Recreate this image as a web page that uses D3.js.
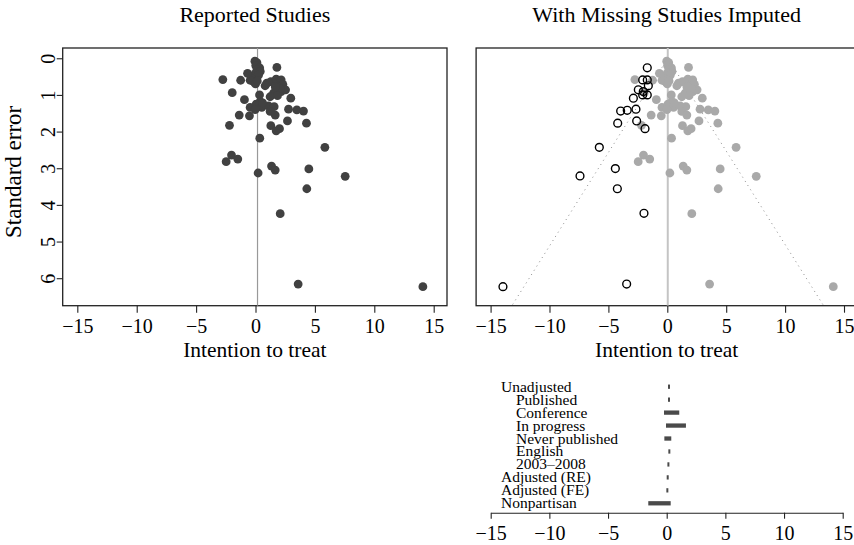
<!DOCTYPE html>
<html>
<head>
<meta charset="utf-8">
<script src="https://cdn.jsdelivr.net/npm/d3@7"></script>
<style>
  body { margin: 0; background: #fff; }
  svg text { font-family: "Liberation Serif", "Times New Roman", serif; fill: #000; }
</style>
</head>
<body>
<div id="chart"></div>
<script>
// reported studies: [effect, standard error]
let reportedX = [-0.05,0.12,0.02,0.35,0.12,0.4,-0.03,0.25,-0.3,-0.17,-0.45,0.0,0.15,
  -2.75,-1.25,-0.67,-1.96,-0.93,-1.37,-0.51,-2.19,-0.45,
  1.8,0.95,1.29,1.74,2.16,2.3,1.85,2.16,2.53,1.52,0.81,2.08,1.66,
  0.34,1.23,1.85,2.97,0.39,0.06,0.12,0.53,1.09,1.57,1.23,1.66,2.78,3.48,4.04,-0.03,0.6,
  1.29,1.74,2.02,2.69,4.29,0.36,5.84,-2.02,-1.49,-2.47,1.35,1.66,4.49,0.22,4.32,2.08,7.55,3.59,14.09];
let reportedSE = [0.08,0.12,0.2,0.26,0.32,0.36,0.42,0.46,0.56,0.64,0.6,0.7,0.62,
  0.58,0.6,0.41,0.94,1.13,1.55,1.57,1.83,1.34,
  0.25,0.68,0.64,0.57,0.59,0.71,0.77,0.91,0.86,0.95,0.75,0.83,0.78,
  1.0,1.05,1.02,1.09,1.18,1.25,1.28,1.34,1.3,1.32,1.45,1.55,1.39,1.41,1.44,1.4,1.22,
  1.84,1.98,1.92,1.71,1.77,2.18,2.43,2.64,2.75,2.82,2.94,3.05,3.02,3.13,3.56,4.24,3.22,6.16,6.23];
// imputed (missing) studies
let imputedX = [-1.70,-2.09,-1.70,-1.61,-2.46,-2.04,-1.70,-2.09,-2.88,-3.96,-3.4,-2.66,-4.21,-2.6,-1.89,-5.77,-4.41,-7.41,-4.24,-1.98,-3.45,-13.95];
let imputedSE = [0.26,0.59,0.59,0.75,0.86,0.91,1.0,1.0,1.09,1.44,1.42,1.39,1.77,1.71,1.92,2.43,3.01,3.21,3.56,4.23,6.16,6.23];
let pooledReported = 0.17;
let pooledImputed = 0.04;

// estimates by subgroup
let groups = ["Unadjusted","Published","Conference","In progress","Never published","English","2003\u20132008","Adjusted (RE)","Adjusted (FE)","Nonpartisan"];
let groupIndent = [0,1,1,1,1,1,1,0,0,0];
let groupLow = [0.11,0.11,-0.23,-0.06,-0.2,0.14,0.06,0.0,-0.03,-1.57];
let groupHigh = [0.28,0.28,1.07,1.64,0.39,0.31,0.23,0.17,0.14,0.34];

let xTicks = [-15,-10,-5,0,5,10,15];
let yTicks = [0,1,2,3,4,5,6];

let svgWidth = 854;
let svgHeight = 545;
let plotTop = 48, plotBottom = 305.7;
let svg = d3.select("#chart").append("svg")
  .attr("width", svgWidth)
  .attr("height", svgHeight);

let xDomain = [-16.23, 16.12];
let yScale = d3.scaleLinear().domain([-0.28, 6.75]).range([plotTop, plotBottom]);
let xLeft = d3.scaleLinear().domain(xDomain).range([62.7, 447]);
let xRight = d3.scaleLinear().domain(xDomain).range([476.1, 857.2]);
let fmt = d3.format("d");

function xAxis(g, x, y, size)
{
  let a = g.append("g")
    .attr("transform", "translate(0," + y + ")")
    .call(d3.axisBottom(x).tickValues(xTicks).tickSize(size).tickSizeOuter(0).tickFormat(fmt));
  a.selectAll(".tick line").attr("stroke", "#222").attr("stroke-width", 1.1);
  a.selectAll(".tick text").attr("font-size", 20).attr("dy", 0).attr("y", 27);
  return a;
}

function panel(x, title, clipId)
{
  let g = svg.append("g");
  let x0 = x.range()[0], x1 = x.range()[1];
  g.append("clipPath").attr("id", clipId).append("rect")
    .attr("x", x0).attr("y", plotTop).attr("width", x1 - x0).attr("height", plotBottom - plotTop);
  let a = xAxis(g, x, plotBottom, 7);
  a.select(".domain").remove();
  g.append("rect")
    .attr("x", x0).attr("y", plotTop)
    .attr("width", x1 - x0).attr("height", plotBottom - plotTop)
    .attr("fill", "none").attr("stroke", "#222").attr("stroke-width", 1.3);
  g.append("text")
    .attr("x", (x0 + x1) / 2).attr("y", 22)
    .attr("text-anchor", "middle").attr("font-size", 22)
    .text(title);
  g.append("text")
    .attr("x", (x0 + x1) / 2).attr("y", 357)
    .attr("text-anchor", "middle").attr("font-size", 21.5)
    .text("Intention to treat");
  return g.append("g").attr("clip-path", "url(#" + clipId + ")");
}

// left panel
let pl = panel(xLeft, "Reported Studies", "clipL");
pl.append("line")
  .attr("x1", xLeft(pooledReported)).attr("x2", xLeft(pooledReported))
  .attr("y1", plotTop).attr("y2", plotBottom)
  .attr("stroke", "#999").attr("stroke-width", 1.2);
pl.selectAll("circle").data(d3.range(reportedX.length)).enter()
  .append("circle")
  .attr("cx", i => xLeft(reportedX[i]))
  .attr("cy", i => yScale(reportedSE[i]))
  .attr("r", 4.4)
  .attr("fill", "#414141");

// y axis (left only), labels parallel to axis
let ya = svg.append("g").attr("transform", "translate(62.7,0)")
  .call(d3.axisLeft(yScale).tickValues(yTicks).tickSize(6).tickSizeOuter(0).tickFormat(fmt));
ya.select(".domain").remove();
ya.selectAll(".tick line").attr("stroke", "#222").attr("stroke-width", 1.1);
ya.selectAll(".tick text")
  .attr("font-size", 20)
  .attr("x", 0).attr("dy", 0)
  .attr("text-anchor", "middle")
  .attr("transform", "translate(-8,0) rotate(-90)");
svg.append("text")
  .attr("transform", "translate(21," + ((plotTop + plotBottom) / 2 - 5) + ") rotate(-90)")
  .attr("text-anchor", "middle").attr("font-size", 23)
  .text("Standard error");

// right panel
let pr = panel(xRight, "With Missing Studies Imputed", "clipR");
pr.append("line")
  .attr("x1", xRight(pooledImputed)).attr("x2", xRight(pooledImputed))
  .attr("y1", plotTop).attr("y2", plotBottom)
  .attr("stroke", "#c4c4c4").attr("stroke-width", 2);
// funnel +/- 1.96 se
let seMax = yScale.domain()[1];
[-1.96, 1.96].forEach(function(z) {
  pr.append("line")
    .attr("x1", xRight(pooledImputed)).attr("y1", yScale(0))
    .attr("x2", xRight(pooledImputed + z * seMax)).attr("y2", yScale(seMax))
    .attr("stroke", "#8a8a8a").attr("stroke-width", 1)
    .attr("stroke-dasharray", "1,4");
});
pr.selectAll("circle.rep").data(d3.range(reportedX.length)).enter()
  .append("circle").attr("class", "rep")
  .attr("cx", i => xRight(reportedX[i]))
  .attr("cy", i => yScale(reportedSE[i]))
  .attr("r", 4.4)
  .attr("fill", "#a9a9a9");
pr.selectAll("circle.imp").data(d3.range(imputedX.length)).enter()
  .append("circle").attr("class", "imp")
  .attr("cx", i => xRight(imputedX[i]))
  .attr("cy", i => yScale(imputedSE[i]))
  .attr("r", 3.9)
  .attr("fill", "none").attr("stroke", "#000").attr("stroke-width", 1.4);

// bottom: estimates by subgroup
let xB = d3.scaleLinear().domain([-15, 15]).range([490.7, 842.7]);
let yB = d3.scalePoint().domain(groups).range([386.7, 503.3]);
let ab = xAxis(svg.append("g"), xB, 512.7, 6);
ab.select(".domain").attr("stroke", "#222").attr("stroke-width", 1.1);
ab.selectAll(".tick text").attr("y", 27);
svg.selectAll("line.est").data(groups).enter()
  .append("line").attr("class", "est")
  .attr("x1", (d, i) => xB(groupLow[i]))
  .attr("x2", (d, i) => xB(groupHigh[i]))
  .attr("y1", d => yB(d)).attr("y2", d => yB(d))
  .attr("stroke", "#4a4a4a").attr("stroke-width", 4.3);
svg.selectAll("text.grp").data(groups).enter()
  .append("text").attr("class", "grp")
  .attr("x", (d, i) => groupIndent[i] ? 516 : 501)
  .attr("y", d => yB(d) + 5)
  .attr("font-size", 15.5)
  .text(d => d);
</script>
</body>
</html>
